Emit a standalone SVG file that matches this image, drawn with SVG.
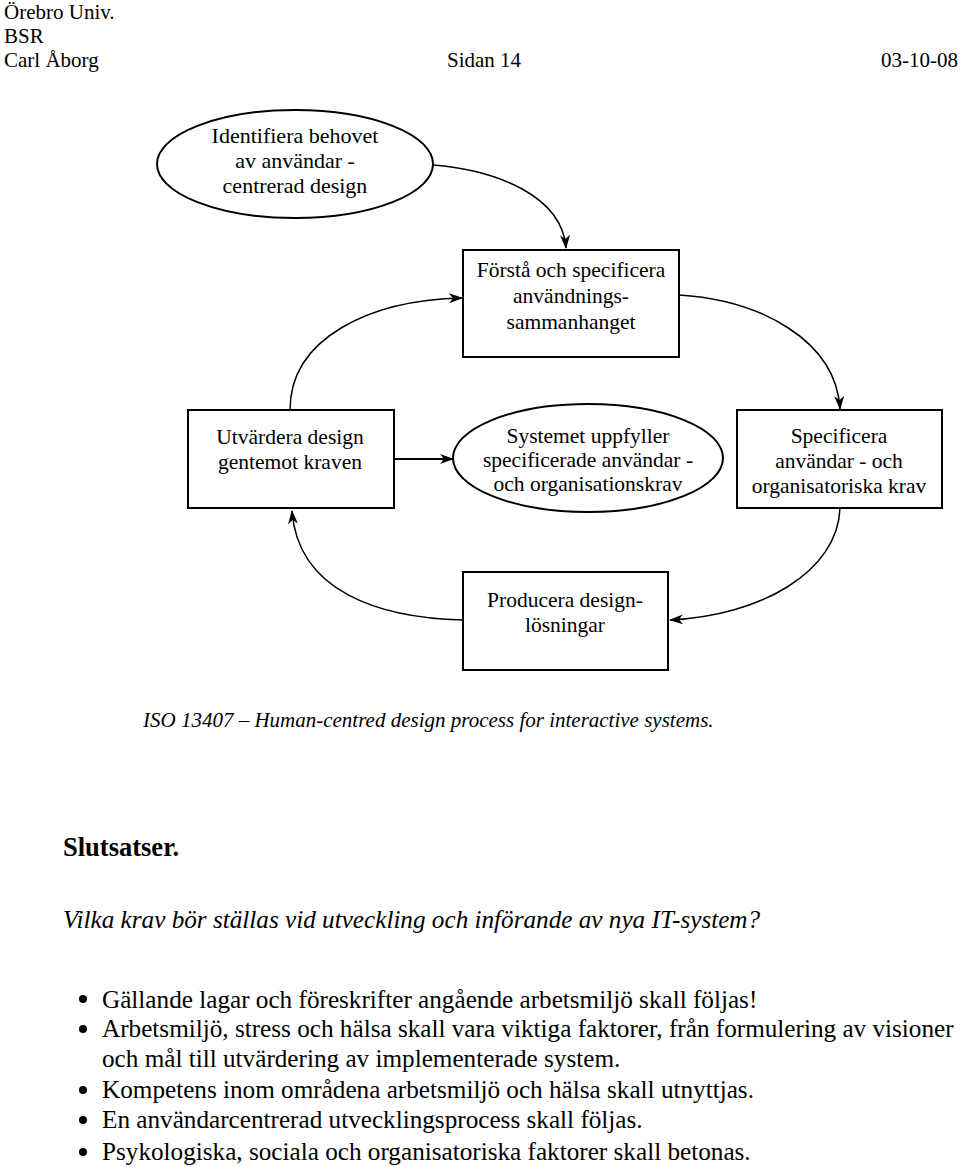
<svg xmlns="http://www.w3.org/2000/svg" width="960" height="1167" viewBox="0 0 960 1167" font-family="'Liberation Serif', 'Times New Roman', serif">
<defs>
<marker id="arr" viewBox="0 0 14 10" refX="13" refY="5" markerWidth="14" markerHeight="10" markerUnits="userSpaceOnUse" orient="auto">
<path d="M0,0 L14,5 L0,10 L4,5 z" fill="#000"/>
</marker>
<style>
.t{font-family:'Liberation Serif','Times New Roman',serif;fill:#000}
.hdr{font-size:21px}
.node{font-size:21.5px;text-anchor:middle}
.big{font-size:22px}
.shape{fill:#fff;stroke:#000;stroke-width:2}
.conn{fill:none;stroke:#000;stroke-width:1.5}
.solid{fill:none;stroke:#000;stroke-width:2}
.cap{font-size:21px;font-style:italic}
.body{font-size:25.2px}
</style>
</defs>
<rect width="960" height="1167" fill="#fff"/>
<g id="header">
<text class="t hdr" x="4" y="19">Örebro Univ.</text>
<text class="t hdr" x="4" y="43">BSR</text>
<text class="t hdr" x="4" y="67">Carl Åborg</text>
<text class="t hdr" x="447" y="67">Sidan 14</text>
<text class="t hdr" x="958" y="67" text-anchor="end">03-10-08</text>
</g>
<g id="connectors">
<path class="conn" d="M433,165 C495,170 562,195 566,248" marker-end="url(#arr)"/>
<path class="conn" d="M679,295 C760,300 836,340 840,409" marker-end="url(#arr)"/>
<path class="conn" d="M840,508 C838,572 760,616 670,620" marker-end="url(#arr)"/>
<path class="conn" d="M463,620 C380,618 298,592 292,511" marker-end="url(#arr)"/>
<path class="conn" d="M290,410 C290,338 370,300 462,298" marker-end="url(#arr)"/>
<path class="solid" d="M394,459 L453,459" marker-end="url(#arr)"/>
</g>
<g id="n-identifiera">
<ellipse class="shape" cx="295" cy="164" rx="138" ry="54"/>
<text class="t node big" x="295" y="143">Identifiera behovet</text>
<text class="t node big" x="295" y="168">av användar -</text>
<text class="t node big" x="295" y="193">centrerad design</text>
</g>
<g id="n-forsta">
<rect class="shape" x="463" y="250" width="216" height="107"/>
<text class="t node" x="571" y="277">Förstå och specificera</text>
<text class="t node" x="571" y="303">användnings-</text>
<text class="t node" x="571" y="329">sammanhanget</text>
</g>
<g id="n-utvardera">
<rect class="shape" x="188" y="410" width="206" height="98"/>
<text class="t node" x="290" y="444">Utvärdera design</text>
<text class="t node" x="290" y="469">gentemot kraven</text>
</g>
<g id="n-systemet">
<ellipse class="shape" cx="588" cy="458" rx="135" ry="54"/>
<text class="t node" x="588" y="443">Systemet uppfyller</text>
<text class="t node" x="588" y="467">specificerade användar -</text>
<text class="t node" x="588" y="491">och organisationskrav</text>
</g>
<g id="n-specificera">
<rect class="shape" x="737" y="410" width="205" height="98"/>
<text class="t node" x="839" y="443">Specificera</text>
<text class="t node" x="839" y="468">användar - och</text>
<text class="t node" x="839" y="493">organisatoriska krav</text>
</g>
<g id="n-producera">
<rect class="shape" x="463" y="572" width="205" height="98"/>
<text class="t node" x="565" y="607">Producera design-</text>
<text class="t node" x="565" y="632">lösningar</text>
</g>
<g id="caption">
<text class="t cap" x="143" y="727">ISO 13407 – Human-centred design process for interactive systems.</text>
</g>
<g id="conclusions">
<text class="t" x="63" y="856" font-size="26.5" font-weight="bold">Slutsatser.</text>
<text class="t" x="63" y="928" font-size="25.2" font-style="italic">Vilka krav bör ställas vid utveckling och införande av nya IT-system?</text>
<circle cx="83" cy="999" r="4"/>
<circle cx="83" cy="1029" r="4"/>
<circle cx="83" cy="1090" r="4"/>
<circle cx="83" cy="1120" r="4"/>
<circle cx="83" cy="1152" r="4"/>
<text class="t body" x="102" y="1008">Gällande lagar och föreskrifter angående arbetsmiljö skall följas!</text>
<text class="t body" x="102" y="1037">Arbetsmiljö, stress och hälsa skall vara viktiga faktorer, från formulering av visioner</text>
<text class="t body" x="102" y="1067">och mål till utvärdering av implementerade system.</text>
<text class="t body" x="102" y="1098">Kompetens inom områdena arbetsmiljö och hälsa skall utnyttjas.</text>
<text class="t body" x="102" y="1128">En användarcentrerad utvecklingsprocess skall följas.</text>
<text class="t body" x="102" y="1160">Psykologiska, sociala och organisatoriska faktorer skall betonas.</text>
</g>
</svg>
